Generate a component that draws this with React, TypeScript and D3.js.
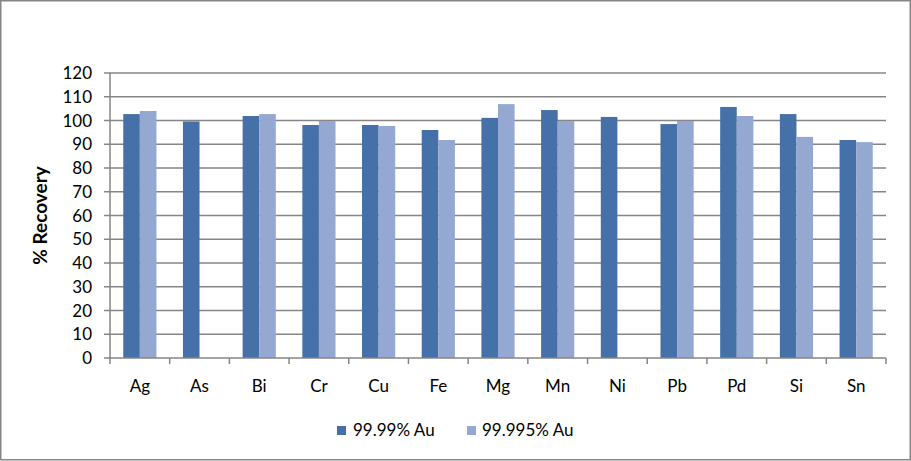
import React from "react";
import * as d3 from "d3";

const categories = ["Ag", "As", "Bi", "Cr", "Cu", "Fe", "Mg", "Mn", "Ni", "Pb", "Pd", "Si", "Sn"];
const series1Name = "99.99% Au";
const series2Name = "99.995% Au";
const series1 = [102.7, 99.6, 101.9, 98.1, 98.1, 96.0, 101.1, 104.4, 101.5, 98.5, 105.7, 102.7, 91.8];
const series2: (number | null)[] = [104.0, null, 102.7, 99.8, 97.7, 91.8, 106.9, 99.8, null, 99.8, 101.9, 93.1, 90.9];
const yTicks = [0, 10, 20, 30, 40, 50, 60, 70, 80, 90, 100, 110, 120];
const yTitle = "% Recovery";

const W = 911;
const H = 461;
const C1 = "#4671A8";
const C2 = "#94A8D1";
const GRID = "#868686";
const FONT = "Lato, 'Open Sans', sans-serif";

export default function App() {
  const left = 110, right = 886, top = 73, bottom = 358;
  const x = d3.scaleBand<string>().domain(categories).range([left, right]).paddingInner(0).paddingOuter(0);
  const y = d3.scaleLinear().domain([0, 120]).range([bottom, top]);
  const bw = x.bandwidth();
  const pad = bw * 0.222;
  const inner = d3.scaleBand<string>().domain(["a", "b"]).range([pad, bw - pad]);

  return (
    <svg width={W} height={H} style={{ position: "absolute", left: 0, top: 0, background: "#fff" }} fontFamily={FONT}>
      <rect x={0.75} y={0.75} width={W - 1.5} height={H - 2} fill="#fff" stroke={GRID} strokeWidth={1.5} />
      {yTicks.map((t) => (
        <g key={t}>
          {t > 0 && <line x1={left} x2={right} y1={y(t)} y2={y(t)} stroke={GRID} strokeWidth={1.5} />}
          <line x1={left - 6} x2={left} y1={y(t)} y2={y(t)} stroke={GRID} strokeWidth={1.5} />
          <text x={92} y={y(t)} dy="0.36em" textAnchor="end" fontSize={17} fill="#000">{t}</text>
        </g>
      ))}
      {categories.map((c, i) => (
        <g key={c}>
          <rect x={(x(c) as number) + (inner("a") as number)} y={y(series1[i])} width={inner.bandwidth()} height={bottom - y(series1[i])} fill={C1} />
          {series2[i] != null && (
            <rect x={(x(c) as number) + (inner("b") as number)} y={y(series2[i] as number)} width={inner.bandwidth()} height={bottom - y(series2[i] as number)} fill={C2} />
          )}
          <text x={(x(c) as number) + bw / 2} y={392} textAnchor="middle" fontSize={17} fill="#000">{c}</text>
        </g>
      ))}
      {categories.concat(["__end"]).map((c, i) => {
        const xx = left + i * bw;
        return <line key={"t" + i} x1={xx} x2={xx} y1={bottom} y2={bottom + 6} stroke={GRID} strokeWidth={1.5} />;
      })}
      <line x1={left} x2={left} y1={top} y2={bottom} stroke={GRID} strokeWidth={1.5} />
      <line x1={left} x2={right} y1={bottom} y2={bottom} stroke={GRID} strokeWidth={1.5} />
      <text transform={`translate(47,${(top + bottom) / 2}) rotate(-90)`} textAnchor="middle" fontSize={19} fontWeight="bold" fill="#000">{yTitle}</text>
      <rect x={337} y={426} width={9} height={9} fill={C1} />
      <text x={353} y={436} fontSize={17} fill="#000">{series1Name}</text>
      <rect x={467} y={426} width={9} height={9} fill={C2} />
      <text x={482} y={436} fontSize={17} fill="#000">{series2Name}</text>
    </svg>
  );
}
